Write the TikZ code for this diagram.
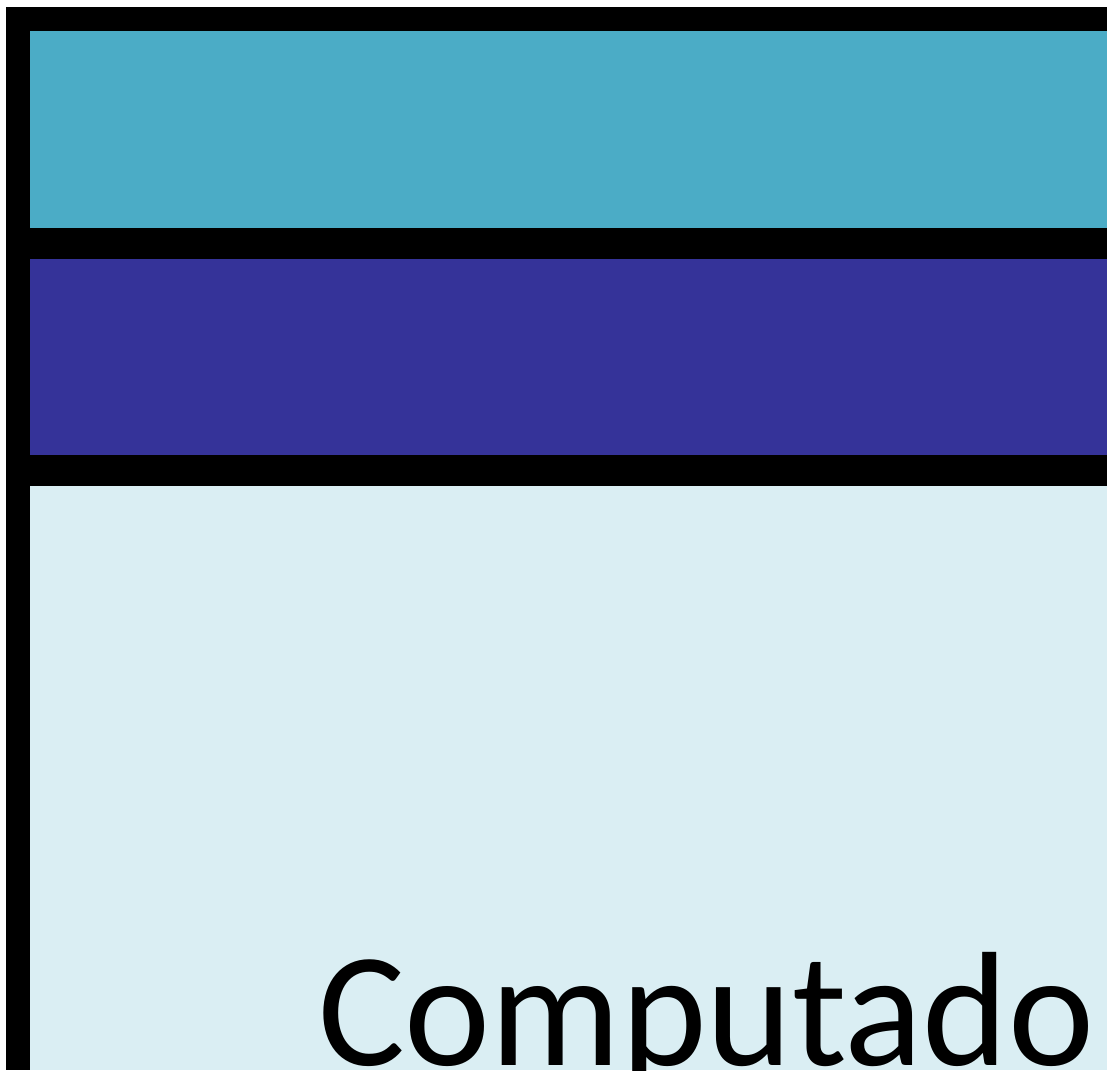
\documentclass[tikz,border=0pt]{standalone}
\usepackage{fontspec}
\setmainfont{Carlito}
\definecolor{bandcyan}{HTML}{4BACC6}
\definecolor{bandpurple}{HTML}{353399}
\definecolor{bandlight}{HTML}{DAEEF3}
\begin{document}
\begin{tikzpicture}[x=1pt,y=-1pt,
  band/.style={draw=none,inner sep=0pt,outer sep=0pt}]
\useasboundingbox (0,0) rectangle (1107,1070);
\fill[white] (0,0) rectangle (1107,1070);
% black frame
\fill[black] (6,7) rectangle (1107,1070);
% bands
\fill[bandcyan] (30,31) rectangle (1107,228);
\fill[bandpurple] (30,259) rectangle (1107,455);
\fill[bandlight] (30,486) rectangle (1107,1070);
\node[band,anchor=base west,font=\fontsize{163}{163}\selectfont] (lbl) at (318,1065) {Computado};
\end{tikzpicture}
\end{document}
